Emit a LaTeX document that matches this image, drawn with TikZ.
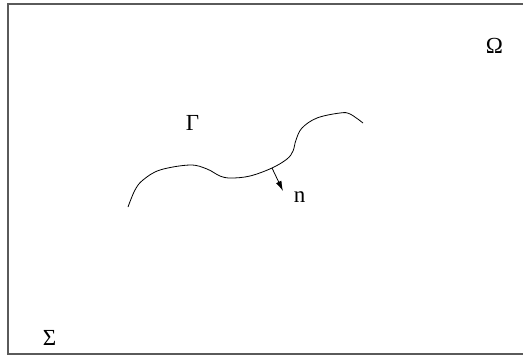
\documentclass[tikz,border=0pt]{standalone}
\usepackage{fontspec}
\setmainfont{Liberation Serif}
\usetikzlibrary{arrows.meta,positioning}
\definecolor{frameGray}{RGB}{90,90,90}
\tikzset{
    frame/.style={
        draw=frameGray,line width=1.2pt
    },
    symb/.style={
        anchor=base,inner sep=0pt,font=\fontsize{23}{27}\selectfont
    },
    interface/.style={
        line width=0.8pt,black
    },
    normal/.style={
        -{Latex[length=10pt,width=6pt]},line width=0.8pt,black
    }
}
\begin{document}
\begin{tikzpicture}[x=1pt,y=-1pt]
\useasboundingbox (0,0) rectangle (523,360);

% domain
\draw[frame] (8,4) rectangle (528,354);

% curve Gamma
\draw[interface] plot[smooth,tension=0.6] coordinates {
(128,207) (135,190) (143,180) (160,170) (190,165) (207,169)
(220,176) (231,178) (250,176) (272,168) (287,159) (293,151)
(296,140) (302,128) (317,118) (340,113) (350,114) (363,123)};

% normal vector
\coordinate (foot) at (272,168);
\coordinate (tip) at (283,191);
\draw[normal] (foot)--(tip);

\node[symb] (omega) at (494.5,53) {Ω};
\node[symb] (gamma) at (192.5,130) {Γ};
\node[symb] (nlab) at (299.5,202) {n};
\node[symb] (sigma) at (49.5,345) {Σ};

\end{tikzpicture}
\end{document}
